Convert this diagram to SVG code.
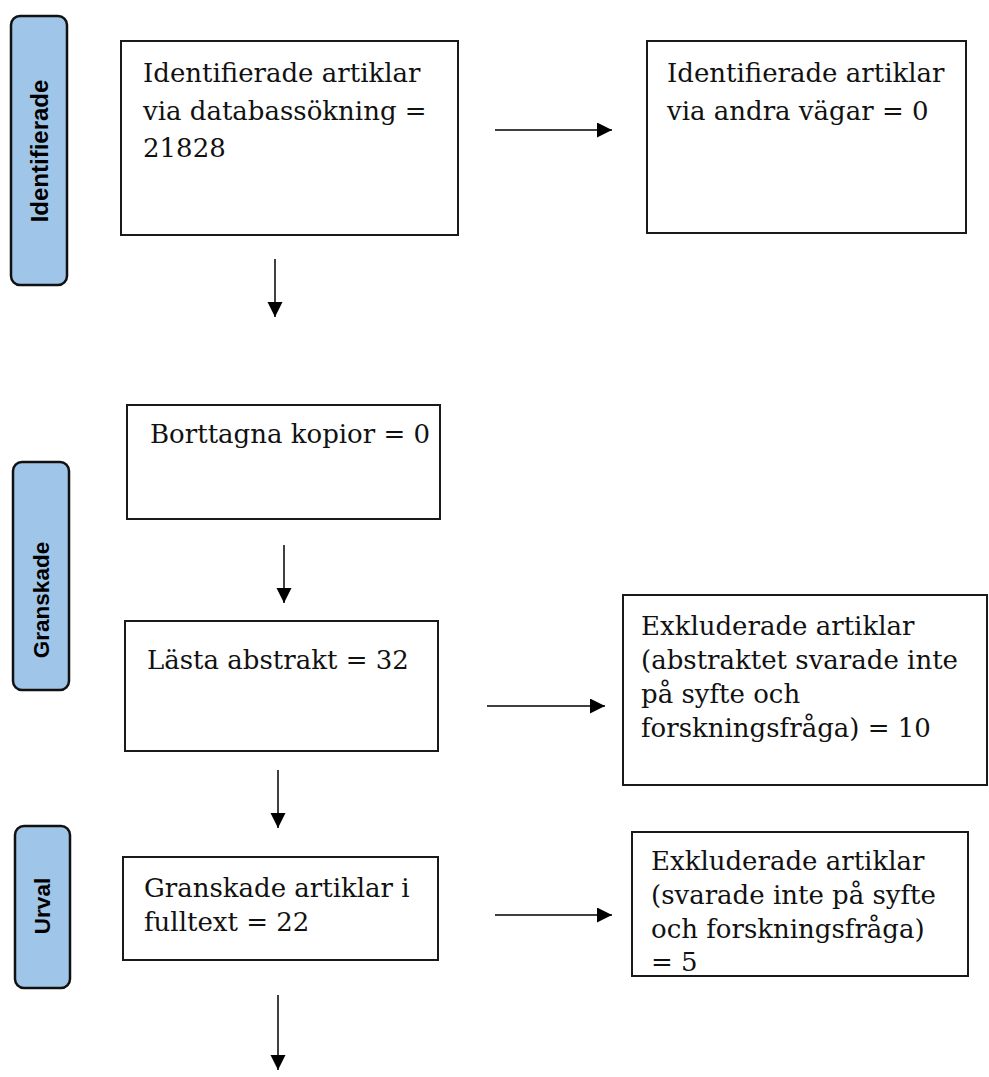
<svg xmlns="http://www.w3.org/2000/svg" width="989" height="1077" viewBox="0 0 989 1077">
<style>
.box{fill:#fff;stroke:#1a1a1a;stroke-width:2}
.lab{fill:#9fc5e8;stroke:#111;stroke-width:2.5}
.t{font-family:"DejaVu Serif","Liberation Serif",serif;font-size:26px;fill:#111}
.s{font-family:"Liberation Sans",Arial,sans-serif;font-weight:bold;font-size:22.5px;fill:#000;text-anchor:middle}
.c{stroke:#000;stroke-width:1.5;fill:none;marker-end:url(#ah)}
</style>
<defs>
<marker id="ah" markerUnits="userSpaceOnUse" markerWidth="16" markerHeight="16" refX="15" refY="7.5" orient="auto">
<path d="M0,0 L15,7.5 L0,15 Z" fill="#000"/>
</marker>
</defs>
<g id="label-identifierade"><rect class="lab" x="11" y="16" width="56" height="269" rx="9"/><text class="s" style="font-size:24px" transform="translate(47.5,151) rotate(-90)">Identifierade</text></g>
<g id="label-granskade"><rect class="lab" x="13" y="462" width="56" height="228" rx="9"/><text class="s" transform="translate(49,600) rotate(-90)">Granskade</text></g>
<g id="label-urval"><rect class="lab" x="15" y="826" width="55" height="162" rx="9"/><text class="s" transform="translate(50,906) rotate(-90)">Urval</text></g>
<g id="n1"><rect class="box" x="121" y="41" width="337" height="194"/><text class="t" x="143" y="82">Identifierade artiklar</text><text class="t" x="143" y="119.5">via databassökning =</text><text class="t" x="143" y="157">21828</text></g>
<g id="n2"><rect class="box" x="647" y="41" width="319" height="192"/><text class="t" x="667" y="82">Identifierade artiklar</text><text class="t" x="667" y="119.5">via andra vägar = 0</text></g>
<g id="n3"><rect class="box" x="127" y="405" width="313" height="114"/><text class="t" x="150" y="443">Borttagna kopior = 0</text></g>
<g id="n4"><rect class="box" x="125" y="621" width="313" height="130"/><text class="t" x="147" y="669">Lästa abstrakt = 32</text></g>
<g id="n5"><rect class="box" x="623" y="595" width="364" height="190"/><text class="t" x="641" y="635">Exkluderade artiklar</text><text class="t" x="641" y="669">(abstraktet svarade inte</text><text class="t" x="641" y="703">på syfte och</text><text class="t" x="641" y="737">forskningsfråga) = 10</text></g>
<g id="n6"><rect class="box" x="123" y="857" width="315" height="103"/><text class="t" x="144" y="897">Granskade artiklar i</text><text class="t" x="144" y="931">fulltext = 22</text></g>
<g id="n7"><rect class="box" x="632" y="832" width="336" height="144"/><text class="t" x="651" y="870">Exkluderade artiklar</text><text class="t" x="651" y="904">(svarade inte på syfte</text><text class="t" x="651" y="938">och forskningsfråga)</text><text class="t" x="651" y="971">= 5</text></g>
<g id="connectors">
<line class="c" x1="495" y1="130" x2="612" y2="130"/>
<line class="c" x1="275" y1="259" x2="275" y2="317"/>
<line class="c" x1="284" y1="545" x2="284" y2="603"/>
<line class="c" x1="487" y1="706" x2="605" y2="706"/>
<line class="c" x1="278" y1="770" x2="278" y2="828"/>
<line class="c" x1="495" y1="915" x2="612" y2="915"/>
<line class="c" x1="278" y1="995" x2="278" y2="1070"/>
</g>
</svg>
